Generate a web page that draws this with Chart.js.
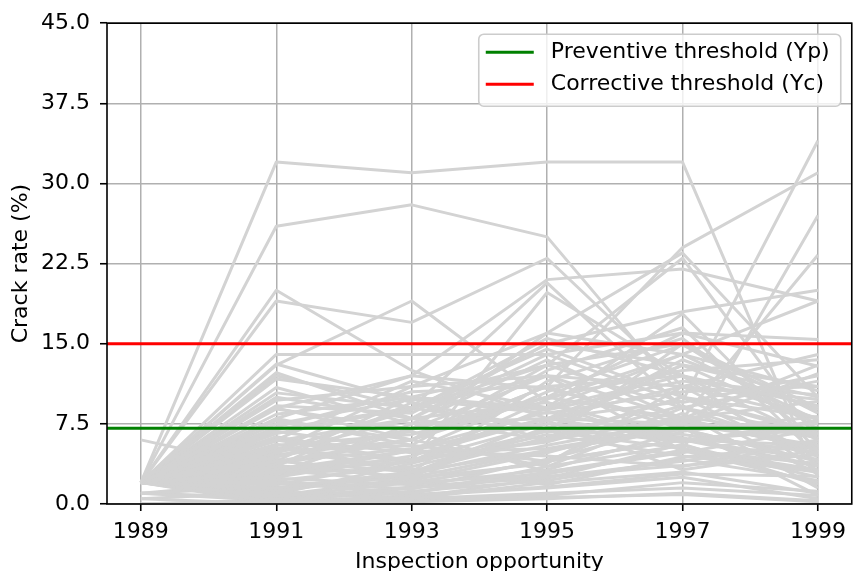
<!DOCTYPE html>
<html>
<head>
<meta charset="utf-8">
<script src="https://cdn.jsdelivr.net/npm/chart.js@4.4.1/dist/chart.umd.min.js"></script>
<style>
  body { margin: 0; background: #fff; }
  canvas { display: block; }
</style>
</head>
<body>
<canvas id="crackChart" width="854" height="571"></canvas>
<script>
// inspection years (x) and axis range
const years = [1989, 1991, 1993, 1995, 1997, 1999];
const xMin = 1988.5;
const xMax = 1999.5;
const yMax = 45;
const yStep = 7.5;

// maintenance thresholds
const thresholdLabels = ['Preventive threshold (Yp)', 'Corrective threshold (Yc)'];
const thresholdValues = [7.1, 15];
const thresholdColors = ['#008000', '#ff0000'];

// crack rate (%) per section, one row per section, one value per year
const highSections = [
  [2, 32, 31, 32, 32, 2.5],
  [2, 26, 28, 25, 10, 4],
  [2, 20, 12.5, 8, 6, 7],
  [2, 19, 17, 23, 11, 8],
  [2, 13, 19, 9.5, 5, 3],
  [2, 14, 14, 14, 16, 15.4],
  [2, 8, 12, 21, 22, 19],
  [2, 5, 9, 20.7, 9, 5],
  [2, 6, 4, 19.8, 12, 6],
  [2, 4, 6, 11, 24, 31],
  [2, 3, 5, 8, 9.6, 34],
  [2, 7, 9, 12, 5, 27],
  [2, 9, 6, 10, 8, 23.3],
  [2, 5, 11, 16, 23.5, 10],
  [2, 12, 9, 13, 23, 6],
  [2, 10, 8, 15, 18, 20],
  [2, 3, 7, 16, 14, 19]
];

const midSections = [
  [2, 11.7, 10, 13, 15, 9],
  [2, 10.4, 9, 7, 13, 11],
  [2, 9.7, 11, 12, 8, 13],
  [2, 8.9, 7, 10, 16, 12.9],
  [2, 8.4, 10, 9, 14, 10.6],
  [2, 7.8, 6, 11, 12, 9.2],
  [2, 6.6, 9, 14.5, 10, 8.1],
  [2, 5.9, 8, 6, 15, 7],
  [2, 5.2, 4, 9, 17.8, 5],
  [2, 4.4, 7, 12, 11, 14],
  [2, 3.8, 6, 13, 9, 11.5],
  [2, 3.2, 5, 10.5, 14.9, 8.5],
  [2, 2.5, 4.5, 8, 13, 10],
  [2, 13.1, 9.5, 6, 10, 6.5],
  [2, 7.2, 10.5, 11, 7, 4],
  [2, 9.2, 8.5, 15, 13, 7.5],
  [2, 6, 11.5, 9, 12, 3],
  [2, 4.8, 8, 14, 9.5, 12],
  [2, 10.9, 7.5, 8, 11, 9.8],
  [2, 8, 5.5, 12.5, 16.5, 4.5],
  [2, 3.5, 9.5, 7, 13.5, 8.8],
  [2, 5.5, 6.5, 10, 12.5, 13.5],
  [2, 12.3, 8, 9.5, 6, 5.5],
  [2, 7.5, 9.8, 8.5, 10.5, 11],
  [2, 1.5, 3, 11.5, 15.5, 6],
  [2, 2.8, 7.5, 13.5, 8, 9.6],
  [2, 6.3, 4, 9.8, 14, 7.8],
  [2, 4, 10, 8.8, 11.5, 10.2],
  [2, 9, 12, 10.8, 7.5, 12.2],
  [2, 5, 8.8, 15.5, 12, 8]
];

const lowSections = [
  [2, 2, 1, 3, 5, 2],
  [2, 1.3, 3, 5, 7, 4],
  [2, 0.7, 2, 4, 6, 3.5],
  [2, 0.2, 1.5, 2.5, 4, 6],
  [2, 3, 4, 6, 8, 5],
  [2, 4, 3, 7, 6, 7.2],
  [2, 5, 5.5, 4, 9, 6.5],
  [2, 6.8, 5, 8, 7.5, 5.5],
  [2, 1, 0.5, 2, 3, 1],
  [2, 0, 0.8, 1.5, 2.5, 0.5],
  [2, 2.2, 3.5, 6.5, 4.5, 3],
  [2, 3.6, 2.5, 5, 7, 7.5],
  [2, 4.6, 6, 3.5, 5.5, 2.5],
  [2, 1.8, 4, 7.5, 6.5, 4.8],
  [2, 0.5, 1, 3.5, 8.5, 1.5],
  [2, 2.6, 5, 4.5, 3.5, 5.8],
  [1, 0.3, 0.5, 1, 1.5, 0.8],
  [1, 1.6, 2, 2.8, 5, 3.8],
  [0.5, 0, 0.2, 0.5, 1, 0.3],
  [0, 0.4, 1.2, 2.2, 4.2, 2.2],
  [6, 3.2, 2, 4, 6, 4.2],
  [2, 5.6, 3, 6.2, 10, 6.8],
  [2, 1.2, 2.8, 5.5, 7.8, 5.2],
  [2, 2.4, 1.8, 3.2, 6.8, 8.2],
  [2, 0.9, 3.8, 6.8, 5.2, 3.2],
  [2, 3.4, 4.2, 5.8, 9.2, 2.8],
  [1, 0.6, 1.6, 2.6, 3.6, 4.6],
  [2, 4.2, 2.2, 4.8, 8.2, 6.2],
  [0, 0, 0.4, 0.8, 2, 1.2],
  [2, 1.5, 2.6, 7.2, 5.8, 7.8],
  [2, 2.9, 3.3, 1.8, 4.4, 5.4],
  [2, 6.1, 4.8, 5.2, 7.2, 0.8],
  [2, 0.8, 2.4, 3.8, 11, 4.4],
  [0.5, 1.1, 0.9, 1.6, 2.8, 2.6],
  [2, 3.9, 5.2, 8.6, 6.2, 3.6],
  [1, 2.1, 1.4, 4.2, 7.4, 6.6],
  [2, 4.5, 6.8, 3, 4.8, 7],
  [2, 0.3, 0.6, 2.4, 5.6, 1.8],
  [2, 5.3, 2.9, 7.8, 3.2, 5],
  [0, 0.2, 0.3, 0.6, 0.9, 0.2]
];

const FONT = 'DejaVu Sans';
const FONT_SIZE = 22;

const sectionDatasets = highSections.concat(midSections, lowSections).map(row => ({
    data: row.map((v, i) => ({ x: years[i], y: v })),
    borderColor: '#d3d3d3',
    borderWidth: 3,
    borderJoinStyle: 'round',
    pointRadius: 0,
    fill: false,
    tension: 0,
    order: 2
}));

const thresholdDatasets = thresholdValues.map((v, i) => ({
    label: thresholdLabels[i],
    data: [{ x: xMin, y: v }, { x: xMax, y: v }],
    borderColor: thresholdColors[i],
    borderWidth: 3,
    pointRadius: 0,
    fill: false,
    order: 1
}));

// axes box and the legend in the upper right corner
const frameAndLegend = {
    id: 'frameAndLegend',
    afterDatasetsDraw(chart) {
        const { ctx, chartArea: a } = chart;
        ctx.save();
        ctx.strokeStyle = '#000';
        ctx.lineWidth = 1.6;
        ctx.strokeRect(a.left, a.top, a.right - a.left, a.bottom - a.top);

        const w = 362, h = 72;
        const x0 = a.right - 11 - w, y0 = a.top + 11;
        ctx.beginPath();
        ctx.roundRect(x0, y0, w, h, 5);
        ctx.fillStyle = 'rgba(255,255,255,0.8)';
        ctx.fill();
        ctx.strokeStyle = '#cccccc';
        ctx.lineWidth = 1.6;
        ctx.stroke();

        ctx.font = FONT_SIZE + 'px "' + FONT + '"';
        ctx.textBaseline = 'middle';
        ctx.textAlign = 'left';
        thresholdLabels.forEach((label, i) => {
            const y = y0 + 18 + i * 32;
            ctx.beginPath();
            ctx.moveTo(x0 + 7, y);
            ctx.lineTo(x0 + 55, y);
            ctx.strokeStyle = thresholdColors[i];
            ctx.lineWidth = 3;
            ctx.stroke();
            ctx.fillStyle = '#000';
            ctx.fillText(label, x0 + 72, y);
        });
        ctx.restore();
    }
};

new Chart(document.getElementById('crackChart'), {
    type: 'line',
    data: { datasets: thresholdDatasets.concat(sectionDatasets) },
    options: {
        responsive: false,
        animation: false,
        layout: { padding: { top: 20, right: 2, left: 0, bottom: 0 } },
        plugins: {
            legend: { display: false },
            tooltip: { enabled: false }
        },
        scales: {
            x: {
                type: 'linear',
                min: xMin,
                max: xMax,
                afterBuildTicks: scale => {
                    scale.ticks = years.map(v => ({ value: v }));
                },
                afterFit: scale => { scale.height = 67; },
                grid: {
                    color: '#b0b0b0',
                    lineWidth: 1.5,
                    tickColor: '#000',
                    tickWidth: 1.6,
                    tickLength: 7
                },
                border: { display: false },
                ticks: {
                    color: '#000',
                    font: { family: FONT, size: FONT_SIZE },
                    padding: 8,
                    maxRotation: 0,
                    callback: v => String(v)
                },
                title: {
                    display: true,
                    text: 'Inspection opportunity',
                    color: '#000',
                    font: { family: FONT, size: FONT_SIZE, lineHeight: 0.8 },
                    padding: { top: 0, bottom: 0 }
                }
            },
            y: {
                min: 0,
                max: yMax,
                afterFit: scale => { scale.width = 107; },
                grid: {
                    color: '#b0b0b0',
                    lineWidth: 1.5,
                    tickColor: '#000',
                    tickWidth: 1.6,
                    tickLength: 7
                },
                border: { display: false },
                ticks: {
                    stepSize: yStep,
                    color: '#000',
                    font: { family: FONT, size: FONT_SIZE },
                    padding: 10,
                    callback: v => v.toFixed(1)
                },
                title: {
                    display: true,
                    text: 'Crack rate (%)',
                    color: '#000',
                    font: { family: FONT, size: FONT_SIZE },
                    padding: { top: 8, bottom: 0 }
                }
            }
        }
    },
    plugins: [frameAndLegend]
});
</script>
</body>
</html>
